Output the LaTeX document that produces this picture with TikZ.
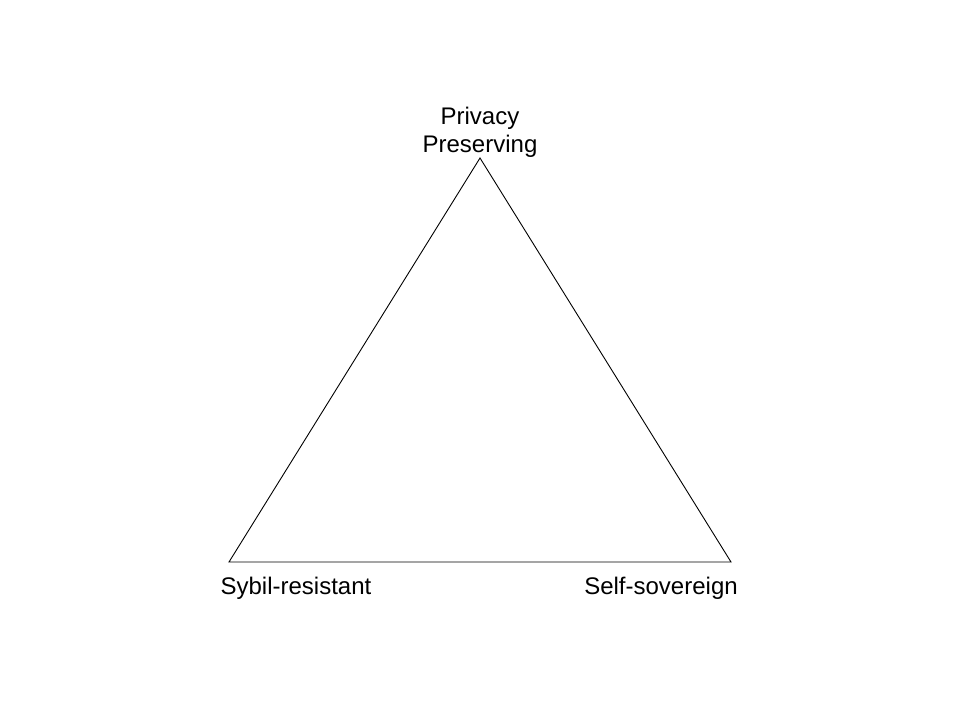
\documentclass[tikz,border=0pt]{standalone}
\usepackage{fontspec}
\setmainfont{Liberation Sans}
\begin{document}
\begin{tikzpicture}[x=1pt,y=-1pt,
  lbl/.style={inner sep=0pt,align=center,font=\fontsize{24}{28}\selectfont},
  edge/.style={draw=black,line width=0.9pt}]
\useasboundingbox (0,0) rectangle (960,720);
\coordinate (top) at (480,158);
\coordinate (bl) at (229,562);
\coordinate (br) at (731,562);
\draw[edge,line join=miter] (top) -- (bl) -- (br) -- cycle;
\node[lbl,anchor=base] (pp) at (480,152) {Privacy\\Preserving};
\node[lbl,anchor=base] (sr) at (296,594) {Sybil-resistant};
\node[lbl,anchor=base] (ss) at (661,594) {Self-sovereign};
\end{tikzpicture}
\end{document}
